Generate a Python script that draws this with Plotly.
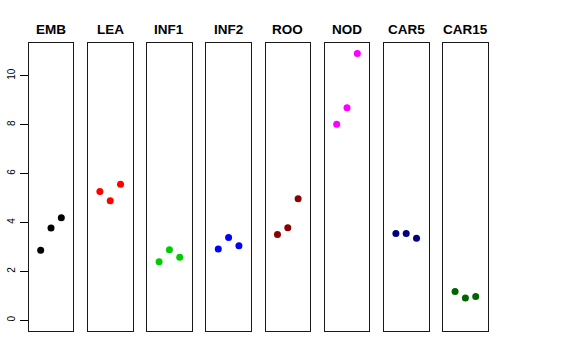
import plotly.graph_objects as go

categories = ["EMB", "LEA", "INF1", "INF2", "ROO", "NOD", "CAR5", "CAR15"]
values = [
    [2.86, 3.77, 4.19],
    [5.27, 4.89, 5.56],
    [2.39, 2.88, 2.58],
    [2.92, 3.39, 3.05],
    [3.51, 3.78, 4.97],
    [8.02, 8.69, 10.91],
    [3.55, 3.55, 3.36],
    [1.18, 0.91, 0.97],
]
colors = ["#000000", "#FF0000", "#00CD00", "#0000FF", "#8B0000", "#FF00FF", "#000080", "#006400"]
replicates = [1, 2, 3]
y_ticks = [0, 2, 4, 6, 8, 10]

W, H = 576, 360
left0, step, pw = 28.7, 59.2, 44.6
top_px, bot_px = 43, 331
ymax = 10.9
yr = [-0.04 * ymax, ymax * 1.04]

fig = go.Figure()
layout = dict(
    width=W, height=H, margin=dict(l=0, r=0, t=0, b=0, autoexpand=False),
    paper_bgcolor="white", plot_bgcolor="white", showlegend=False,
    font=dict(family="Liberation Sans, Arial, sans-serif", color="black"),
)
annotations = []
for i, (cat, vals, col) in enumerate(zip(categories, values, colors)):
    n = "" if i == 0 else str(i + 1)
    x0 = (left0 + i * step) / W
    x1 = (left0 + i * step + pw) / W
    fig.add_trace(go.Scatter(
        x=replicates, y=vals, mode="markers",
        marker=dict(color=col, size=7, line=dict(width=0)),
        xaxis="x" + n, yaxis="y" + n, hoverinfo="skip",
    ))
    layout["xaxis" + n] = dict(
        domain=[x0, x1], range=[-0.16, 4.16], showgrid=False, zeroline=False,
        showticklabels=False, ticks="", showline=True, mirror=True,
        linecolor="#1a1a1a", linewidth=1, anchor="y" + n, fixedrange=True,
        automargin=False,
    )
    ya = dict(
        domain=[(H - bot_px) / H, (H - top_px) / H], range=yr, showgrid=False,
        zeroline=False, showline=True, mirror=True, linecolor="#1a1a1a",
        linewidth=1, anchor="x" + n, fixedrange=True, automargin=False,
    )
    if i == 0:
        ya.update(ticks="outside", ticklen=8, tickcolor="black", tickwidth=1,
                  tickvals=y_ticks, ticktext=[str(t) for t in y_ticks],
                  tickangle=-90, tickfont=dict(size=10), ticklabelstandoff=1)
    else:
        ya.update(showticklabels=False, ticks="")
    layout["yaxis" + n] = ya
    annotations.append(dict(
        text="<b>" + cat + "</b>", x=(x0 + x1) / 2, y=(H - 29) / H,
        xref="paper", yref="paper", xanchor="center", yanchor="middle",
        showarrow=False, font=dict(size=13.5, color="black"),
    ))
layout["annotations"] = annotations
fig.update_layout(**layout)
fig.write_html(
    "out.html",
    config={"displayModeBar": False, "staticPlot": True},
    post_script="document.body.style.margin='0';document.body.style.padding='0';",
)
